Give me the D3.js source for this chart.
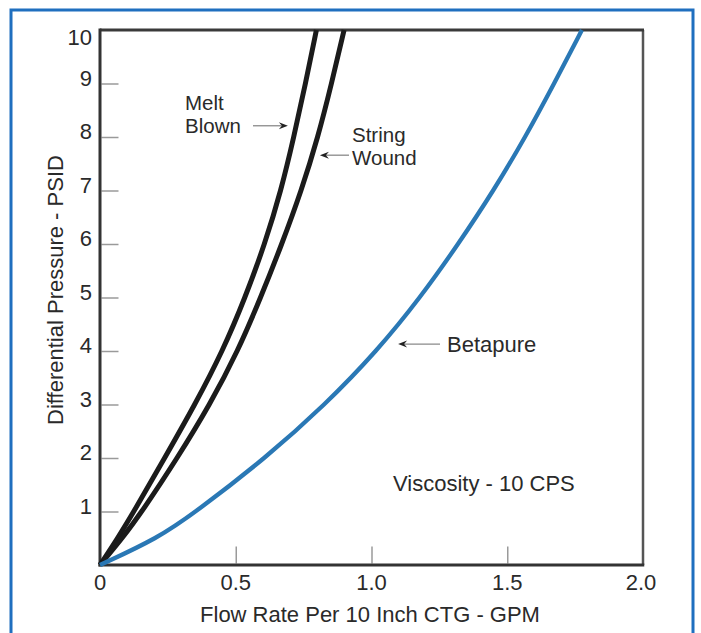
<!DOCTYPE html>
<html>
<head>
<meta charset="utf-8">
<script src="https://cdn.jsdelivr.net/npm/d3@7"></script>
<style>
  html, body { margin: 0; padding: 0; background: #fff; }
  svg { display: block; }
  text { font-family: "Liberation Sans", Arial, Helvetica, sans-serif; fill: #2a2a2a; }
</style>
</head>
<body>
<svg id="chart" width="701" height="633"></svg>
<script>
// ---- data ----
const pressure     = [0, 0.5, 1, 2, 3, 4, 5, 6, 7, 8, 9, 10];          // PSID
const meltBlown    = [0, 0.065, 0.125, 0.238, 0.35, 0.452, 0.535, 0.607, 0.667, 0.714, 0.757, 0.797]; // GPM
const stringWound  = [0, 0.082, 0.155, 0.285, 0.405, 0.508, 0.592, 0.67, 0.742, 0.803, 0.853, 0.899];
const betapure     = [0, 0.213, 0.355, 0.61, 0.83, 1.02, 1.18, 1.32, 1.45, 1.567, 1.673, 1.775];
const xTicks = [0, 0.5, 1.0, 1.5, 2.0];
const xTickLabels = ["0", "0.5", "1.0", "1.5", "2.0"];
const yTicks = [1, 2, 3, 4, 5, 6, 7, 8, 9, 10];
const yTickLabels = ["1", "2", "3", "4", "5", "6", "7", "8", "9", "10"];
const seriesNames = ["Melt Blown", "String Wound", "Betapure"];
const xTitle = "Flow Rate Per 10 Inch CTG - GPM";
const yTitle = "Differential Pressure - PSID";
const note = "Viscosity - 10 CPS";

// ---- layout ----
const svg = d3.select("#chart");
const L = 100, R = 643, T = 30, B = 565;
const x = d3.scaleLinear().domain([0, 2]).range([L, R]);
const y = d3.scaleLinear().domain([0, 10]).range([B, T]);

// outer blue frame
svg.append("rect").attr("x", 11).attr("y", 10).attr("width", 682).attr("height", 700)
  .attr("fill", "none").attr("stroke", "#1f6fbf").attr("stroke-width", 3);

// ticks (inward, grey)
const yAxis = d3.axisLeft(y).tickValues(yTicks.slice(0, -1)).tickSize(-17).tickFormat("");
const gy = svg.append("g").attr("transform", `translate(${L},0)`).call(yAxis);
gy.select(".domain").remove();
gy.selectAll(".tick line").attr("stroke", "#9a9a9a").attr("stroke-width", 1.5).attr("transform", "translate(1.5,0)");

const xAxis = d3.axisBottom(x).tickValues(xTicks.slice(1, -1)).tickSize(-17).tickFormat("");
const gx = svg.append("g").attr("transform", `translate(0,${B})`).call(xAxis);
gx.select(".domain").remove();
gx.selectAll(".tick line").attr("stroke", "#9a9a9a").attr("stroke-width", 1.5).attr("transform", "translate(0,-1.5)");

// plot box
svg.append("line").attr("x1", R).attr("x2", R).attr("y1", T).attr("y2", B)
  .attr("stroke", "#555").attr("stroke-width", 2.5);
svg.append("line").attr("x1", L).attr("x2", R + 1).attr("y1", T).attr("y2", T)
  .attr("stroke", "#3a3a3a").attr("stroke-width", 3);
svg.append("line").attr("x1", L).attr("x2", L).attr("y1", T - 1.5).attr("y2", B + 1.5)
  .attr("stroke", "#333").attr("stroke-width", 3);
svg.append("line").attr("x1", L - 1.5).attr("x2", R + 1.25).attr("y1", B).attr("y2", B)
  .attr("stroke", "#333").attr("stroke-width", 3);

// tick labels
svg.append("g").selectAll("text").data(yTicks).join("text")
  .attr("x", 92)
  .attr("y", d => d === 10 ? 45 : y(d) + 2)
  .attr("text-anchor", "end").attr("font-size", 22)
  .text((d, i) => yTickLabels[i]);

svg.append("g").selectAll("text").data(xTicks).join("text")
  .attr("x", d => x(d) - (d === 2 ? 2 : 0))
  .attr("y", 590)
  .attr("text-anchor", "middle").attr("font-size", 22)
  .text((d, i) => xTickLabels[i]);

// axis titles
svg.append("text").attr("x", 370).attr("y", 622).attr("text-anchor", "middle")
  .attr("font-size", 22).text(xTitle);
svg.append("text").attr("transform", "translate(63,290) rotate(-90)").attr("text-anchor", "middle")
  .attr("font-size", 22).text(yTitle);

// curves
const line = d3.line().x(d => x(d[0])).y(d => y(d[1])).curve(d3.curveBasis);
const series = [
  { name: seriesNames[0], vals: meltBlown, color: "#1b1b1b", w: 5 },
  { name: seriesNames[1], vals: stringWound, color: "#1b1b1b", w: 5 },
  { name: seriesNames[2], vals: betapure, color: "#2a78b5", w: 4.3 }
];
svg.append("g").selectAll("path").data(series).join("path")
  .attr("d", s => line(s.vals.map((v, i) => [v, pressure[i]])))
  .attr("fill", "none").attr("stroke", s => s.color).attr("stroke-width", s => s.w)
  .attr("stroke-linejoin", "round");

// annotations
function arrow(x1, x2, yy) {
  const dir = x2 > x1 ? 1 : -1;
  svg.append("line").attr("x1", x1).attr("x2", x2 - dir * 6).attr("y1", yy).attr("y2", yy)
    .attr("stroke", "#8a8a8a").attr("stroke-width", 1.3);
  svg.append("path")
    .attr("d", `M${x2},${yy} L${x2 - dir * 9},${yy - 3.5} L${x2 - dir * 6},${yy} L${x2 - dir * 9},${yy + 3.5} Z`)
    .attr("fill", "#222");
}
function label(x0, y0, lines, fs, lh) {
  lines.forEach((s, i) => svg.append("text").attr("x", x0).attr("y", y0 + i * lh)
    .attr("font-size", fs).text(s));
}
label(185, 110, seriesNames[0].split(" "), 20.5, 23);
arrow(253, x(0.692), y(8.21));

label(352, 142, seriesNames[1].split(" "), 20.5, 23);
arrow(349, x(0.81), y(7.66));

label(447, 352, [seriesNames[2]], 22, 0);
arrow(440, x(1.098), y(4.13));

svg.append("text").attr("x", 393).attr("y", 491).attr("font-size", 22).text(note);
</script>
</body>
</html>
